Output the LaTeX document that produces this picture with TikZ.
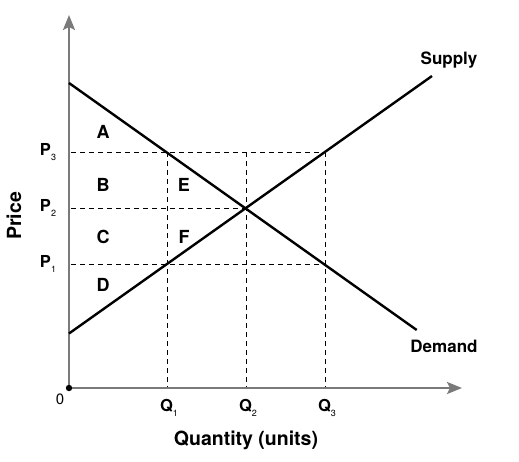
\documentclass[tikz,border=0pt]{standalone}
\usepackage{fontspec}
\setmainfont{TeX Gyre Heros}
\usetikzlibrary{arrows.meta}
\definecolor{axisgray}{HTML}{7A7A7A}
\begin{document}
\begin{tikzpicture}[x=1pt,y=-1pt,
  axisline/.style={draw=axisgray, line width=2.4pt, -{Stealth[length=15pt,width=12pt,inset=3pt]}},
  curve/.style={draw=black, line width=2.4pt},
  guide/.style={draw=black, dash pattern=on 5pt off 4pt, line width=0.9pt},
  lbl/.style={font=\bfseries\fontsize{17}{17}\selectfont, inner sep=0pt},
  area/.style={font=\bfseries\fontsize{18}{18}\selectfont, inner sep=0pt},
  ttl/.style={font=\bfseries\fontsize{19.5}{19.5}\selectfont, inner sep=0pt},
  tick/.style={font=\bfseries\fontsize{16.5}{16.5}\selectfont, inner sep=0pt}
]
\newcommand{\sbs}[1]{\raisebox{-0.55ex}{\mdseries\fontsize{9}{9}\selectfont #1}}
\useasboundingbox (0,0) rectangle (519,461);
% coordinates
\coordinate (O) at (69,388);
\coordinate (ytop) at (69,15);
\coordinate (xend) at (462,388);
\coordinate (d1) at (69,83);
\coordinate (d2) at (416.7,330);
\coordinate (s1) at (69,333.5);
\coordinate (s2) at (432,76);
\coordinate (y3) at (71,152);
\coordinate (y2) at (71,208);
\coordinate (y1) at (71,264);
\coordinate (a13) at (167,152);
\coordinate (a23) at (246,152);
\coordinate (a33) at (325,152);
\coordinate (a11) at (167,264);
\coordinate (a31) at (325,264);
\coordinate (eq) at (246,208);
\coordinate (x1) at (167,388);
\coordinate (x2) at (246,388);
\coordinate (x3) at (325,388);
% guides
\draw[guide] (y3) -- (a33);
\draw[guide] (y2) -- (eq);
\draw[guide] (y1) -- (a31);
\draw[guide] (a13) -- (x1);
\draw[guide] (a23) -- (x2);
\draw[guide] (a33) -- (x3);
% axes
\draw[axisline] (O) -- (ytop);
\draw[axisline] (O) -- (xend);
\fill[black] (O) circle (3.2pt);
% curves
\draw[curve] (d1) -- (d2);
\draw[curve] (s1) -- (s2);
% labels
\node[lbl] (supply) at (449,60) {Supply};
\node[lbl] (demand) at (444,346) {Demand};
\node[ttl] (qty) at (246,440) {Quantity (units)};
\node[ttl, rotate=90] (price) at (14,216) {Price};
\node[inner sep=0pt, font=\fontsize{15}{15}\selectfont] (zero) at (60,399) {0};
\node[tick] (p3) at (48,152) {P\sbs{3}};
\node[tick] (p2) at (48,208) {P\sbs{2}};
\node[tick] (p1) at (48,264) {P\sbs{1}};
\node[tick] (q1) at (169,408) {Q\sbs{1}};
\node[tick] (q2) at (248,408) {Q\sbs{2}};
\node[tick] (q3) at (327,408) {Q\sbs{3}};
\node[area] (A) at (103,132) {A};
\node[area] (B) at (103,185) {B};
\node[area] (C) at (103,237) {C};
\node[area] (D) at (103,285) {D};
\node[area] (E) at (184,185) {E};
\node[area] (F) at (184,237) {F};
\end{tikzpicture}
\end{document}
